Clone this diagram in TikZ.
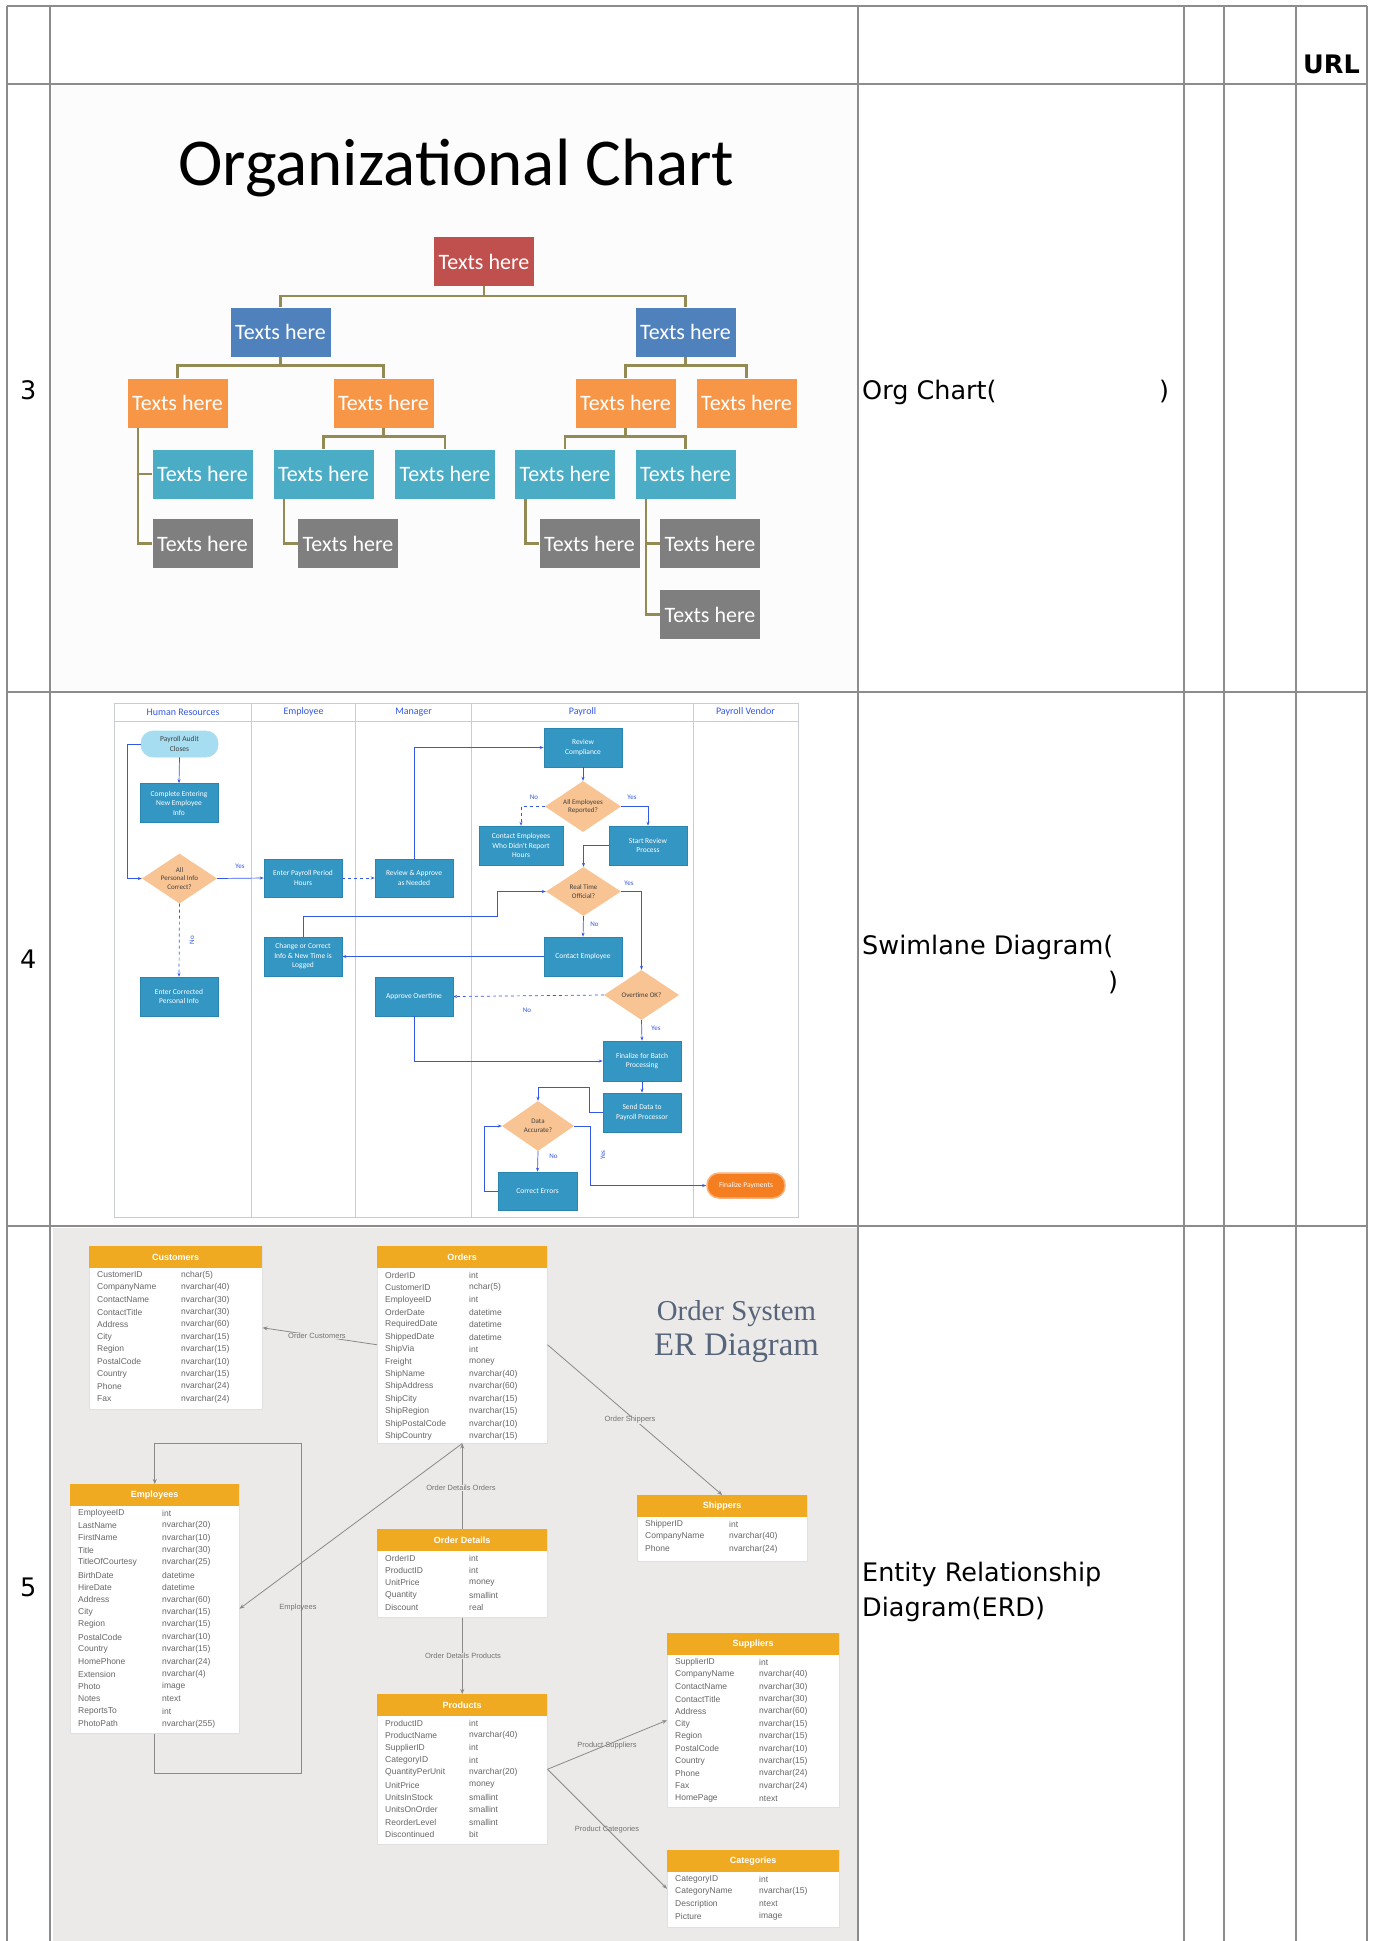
\documentclass[tikz,border=0pt]{standalone}
\usepackage{fontspec}
\setmainfont{DejaVu Sans}
\newfontfamily\calfont{Carlito}
\newfontfamily\lsfont{Liberation Sans}
\newfontfamily\lserif{Liberation Serif}
\usetikzlibrary{shapes.geometric,arrows.meta}
\definecolor{gridc}{HTML}{8C8C8C}
\definecolor{cRed}{HTML}{C0504D}
\definecolor{cBlue}{HTML}{4F81BD}
\definecolor{cOrange}{HTML}{F79646}
\definecolor{cCyan}{HTML}{4BACC6}
\definecolor{cGray}{HTML}{7F7F7F}
\definecolor{cOlive}{HTML}{948A54}
\definecolor{cTeal}{HTML}{3496C2}
\definecolor{cTealD}{HTML}{2A86B0}
\definecolor{cPeach}{HTML}{F9C493}
\definecolor{cLight}{HTML}{A6DDF0}
\definecolor{cPay}{HTML}{F57E20}
\definecolor{cLine}{HTML}{3358E8}
\definecolor{cLane}{HTML}{C8CCD8}
\definecolor{cErdBg}{HTML}{ECEAE8}
\definecolor{cGold}{HTML}{EFAA22}
\definecolor{cRel}{HTML}{8A8A8A}
\definecolor{cTitle}{HTML}{56657A}

\newcommand\erdtab[7]{%
  \node[erdbody, minimum width=#4pt, minimum height=#5pt, anchor=north west] (#1) at (#2,#3) {};
  \node[erdhead, minimum width=#4pt, anchor=north west] (#1-h) at (#2,#3) {#6};
  \foreach \fn/\ft [count=\i] in {#7} {
    \node[erdtxt, anchor=west] (#1-n\i) at ({#2+8},{#3+29+(\i-1)*12.4}) {\fn};
    \node[erdtxt, anchor=west] (#1-t\i) at ({#2+92},{#3+29+(\i-1)*12.4}) {\ft};
  }}

\begin{document}
\begin{tikzpicture}[x=1pt,y=-1pt,
  gridline/.style={draw=gridc, line width=2.5pt},
  rtxt/.style={font=\fontsize{25.5}{30}\selectfont, inner sep=0pt},
  orgbox/.style={rectangle, minimum width=100pt, minimum height=49pt, inner sep=0pt, text=white, font=\calfont\fontsize{22}{24}\selectfont},
  orgline/.style={draw=cOlive, line width=2.5pt},
  lanel/.style={draw=cLane, line width=0.8pt},
  lanehd/.style={text=cLine, font=\calfont\fontsize{10}{11}\selectfont, inner sep=0pt},
  slbox/.style={rectangle, fill=cTeal, draw=cTealD, line width=0.6pt, text=white, font=\calfont\fontsize{7.5}{9.5}\selectfont, align=center, inner sep=1pt, minimum width=78pt, minimum height=39pt},
  sldia/.style={diamond, aspect=1.5, fill=cPeach, text=black!75, font=\calfont\fontsize{7}{8.5}\selectfont, align=center, inner sep=0pt, minimum width=75pt, minimum height=50pt},
  slarrow/.style={draw=cLine, line width=0.7pt, -{Stealth[length=4pt,width=3pt]}},
  sllbl/.style={text=cLine, font=\calfont\fontsize{7}{8}\selectfont, inner sep=0pt},
  erdbody/.style={rectangle, fill=white, draw=black!12, line width=0.5pt, inner sep=0pt},
  erdhead/.style={rectangle, fill=cGold, minimum height=22pt, inner sep=0pt, text=white, font=\lsfont\bfseries\fontsize{9}{10}\selectfont},
  erdtxt/.style={font=\lsfont\fontsize{8.5}{9}\selectfont, text=black!60, inner sep=0pt},
  erdrel/.style={draw=cRel, line width=0.8pt, -{Stealth[length=5pt,width=4pt]}},
  erdlbl/.style={font=\lsfont\fontsize{7.5}{8}\selectfont, text=black!55, inner sep=0pt}
]
\useasboundingbox (0,0) rectangle (1383,1941);
\fill[white] (0,0) rectangle (1383,1941);

%================ ORG CHART =================
\fill[black!1] (52,86) rectangle (857,690);
\node[font=\calfont\fontsize{67}{70}\selectfont, anchor=base, inner sep=0pt] (orgtitle) at (456.5,185) {Organizational Chart};

\node[orgbox, fill=cRed] (red) at (484,261.5) {Texts here};
\node[orgbox, fill=cBlue] (bl) at (280.5,332) {Texts here};
\node[orgbox, fill=cBlue] (br) at (685.5,332) {Texts here};
\node[orgbox, fill=cOrange] (o1) at (177.5,403) {Texts here};
\node[orgbox, fill=cOrange] (o2) at (383.5,403) {Texts here};
\node[orgbox, fill=cOrange] (o3) at (625.5,403) {Texts here};
\node[orgbox, fill=cOrange] (o4) at (746.5,403) {Texts here};
\node[orgbox, fill=cCyan] (c1) at (202.5,474) {Texts here};
\node[orgbox, fill=cCyan] (c2) at (323.5,474) {Texts here};
\node[orgbox, fill=cCyan] (c3) at (445,474) {Texts here};
\node[orgbox, fill=cCyan] (c4) at (565,474) {Texts here};
\node[orgbox, fill=cCyan] (c5) at (685.5,474) {Texts here};
\node[orgbox, fill=cGray] (g1) at (202.5,543.5) {Texts here};
\node[orgbox, fill=cGray] (g2) at (348,543.5) {Texts here};
\node[orgbox, fill=cGray] (g3) at (589.5,543.5) {Texts here};
\node[orgbox, fill=cGray] (g4) at (710,543.5) {Texts here};
\node[orgbox, fill=cGray] (g5) at (710,614.5) {Texts here};

\draw[orgline] (red.south) -- ++(0,10) -| (bl.north);
\draw[orgline] (red.south) -- ++(0,10) -| (br.north);
\draw[orgline] (bl.south) -- ++(0,9) -| (o1.north);
\draw[orgline] (bl.south) -- ++(0,9) -| (o2.north);
\draw[orgline] (br.south) -- ++(0,9) -| (o3.north);
\draw[orgline] (br.south) -- ++(0,9) -| (o4.north);
\draw[orgline] (o2.south) -- ++(0,9) -| (c2.north);
\draw[orgline] (o2.south) -- ++(0,9) -| (c3.north);
\draw[orgline] (o3.south) -- ++(0,9) -| (c4.north);
\draw[orgline] (o3.south) -- ++(0,9) -| (c5.north);
\draw[orgline] ([xshift=-39.5pt]o1.south) |- (c1.west);
\draw[orgline] ([xshift=-39.5pt]o1.south) |- (g1.west);
\draw[orgline] ([xshift=-39.5pt]c2.south) |- (g2.west);
\draw[orgline] ([xshift=-39.5pt]c4.south) |- (g3.west);
\draw[orgline] ([xshift=-39.5pt]c5.south) |- (g4.west);
\draw[orgline] ([xshift=-39.5pt]c5.south) |- (g5.west);

%================ SWIMLANE =================
\draw[lanel] (114,703) rectangle (798,1217);
\draw[lanel] (114,721) -- (798,721);
\foreach \lx in {251.5,355.7,471,693} {\draw[lanel] (\lx,703) -- (\lx,1217);}
\node[lanehd] (lhr) at (183,712) {Human Resources};
\node[lanehd] (lem) at (303.5,712) {Employee};
\node[lanehd] (lma) at (413.5,712) {Manager};
\node[lanehd] (lpa) at (582.5,712) {Payroll};
\node[lanehd] (lpv) at (745.5,712) {Payroll Vendor};

\node[slbox, fill=cLight, draw=cLight, text=black!75, rounded corners=12pt, minimum height=26pt, minimum width=77pt] (audit) at (179.5,744) {Payroll Audit\\Closes};
\node[slbox] (complete) at (179,803) {Complete Entering\\New Employee\\Info};
\node[sldia] (dAll) at (179.5,878.5) {All\\Personal Info\\Correct?};
\node[slbox, minimum height=38pt] (enterHrs) at (303,878) {Enter Payroll Period\\Hours};
\node[slbox, minimum height=38pt] (reviewAp) at (414,878) {Review \& Approve\\as Needed};
\node[slbox] (revComp) at (583,747.5) {Review\\Compliance};
\node[sldia, minimum width=76pt, minimum height=51pt] (dEmp) at (583,806.5) {All Employees\\Reported?};
\node[slbox, minimum width=84pt] (contactEmps) at (521,845.5) {Contact Employees\\Who Didn't Report\\Hours};
\node[slbox] (startRev) at (648,845.5) {Start Review\\Process};
\node[sldia, minimum height=49pt] (dReal) at (583.5,891.5) {Real Time\\Official?};
\node[slbox] (change) at (303,956.5) {Change or Correct\\Info \& New Time is\\Logged};
\node[slbox] (contactEmp) at (583,956.5) {Contact Employee};
\node[slbox] (enterCorr) at (179,996.5) {Enter Corrected\\Personal Info};
\node[slbox] (approveOT) at (414,996.5) {Approve Overtime};
\node[sldia] (dOT) at (641.5,995) {Overtime OK?};
\node[slbox, minimum height=40pt] (finalBatch) at (642,1061) {Finalize for Batch\\Processing};
\node[slbox] (sendData) at (642,1112.5) {Send Data to\\Payroll Processor};
\node[sldia, minimum width=72pt] (dData) at (538,1126) {Data\\Accurate?};
\node[slbox, minimum width=79pt, minimum height=38pt] (correct) at (537.5,1191) {Correct Errors};
\node[slbox, fill=cPay, draw=cPay!60, line width=1.5pt, rounded corners=12pt, minimum height=25pt] (finalPay) at (746,1185.5) {Finalize Payments};

\draw[slarrow] (audit.south) -- (complete.north);
\draw[slarrow] (audit.west) -- ++(-13,0) |- (dAll.west);
\draw[slarrow] (dAll.east) -- (enterHrs.west);
\draw[slarrow, dashed] (enterHrs.east) -- (reviewAp.west);
\draw[slarrow] (reviewAp.north) |- (revComp.west);
\draw[slarrow] (revComp.south) -- (dEmp.north);
\draw[slarrow, dashed] (dEmp.west) -| (contactEmps.north);
\draw[slarrow] (dEmp.east) -| (startRev.north);
\draw[slarrow] (startRev.west) -| (dReal.north);
\draw[slarrow] (dReal.east) -| (dOT.north);
\draw[slarrow] (dReal.south) -- (contactEmp.north);
\draw[slarrow] (contactEmp.west) -- (change.east);
\draw[slarrow] (change.north) -- ++(0,-20) -| ([xshift=-48pt]dReal.west) -- (dReal.west);
\draw[slarrow, dashed] (dAll.south) -- (enterCorr.north);
\draw[slarrow, dashed] (dOT.west) -- (approveOT.east);
\draw[slarrow] (dOT.south) -- (finalBatch.north);
\draw[slarrow] (approveOT.south) |- (finalBatch.west);
\draw[slarrow] (finalBatch.south) -- (sendData.north);
\draw[slarrow] (sendData.west) -- ++(-13,0) -- ++(0,-25) -| (dData.north);
\draw[slarrow] (dData.south) -- (correct.north);
\draw[slarrow] (correct.west) -- ++(-13,0) |- (dData.west);
\draw[slarrow] (dData.east) -- ++(16,0) |- (finalPay.west);

\node[sllbl] (lb1) at (240,866) {Yes};
\node[sllbl] (lb2) at (534,797) {No};
\node[sllbl] (lb3) at (632,797) {Yes};
\node[sllbl] (lb4) at (629,883) {Yes};
\node[sllbl] (lb5) at (594.5,924) {No};
\node[sllbl, rotate=90] (lb6) at (192,940) {No};
\node[sllbl] (lb7) at (527,1010) {No};
\node[sllbl] (lb8) at (656,1028) {Yes};
\node[sllbl] (lb9) at (553.5,1156) {No};
\node[sllbl, rotate=90] (lb10) at (603,1155) {Yes};

%================ ERD =================
\fill[cErdBg] (53,1228) rectangle (857,1941);
\erdtab{customers}{89}{1246}{173}{163}{Customers}{CustomerID/nchar(5), CompanyName/nvarchar(40), ContactName/nvarchar(30), ContactTitle/nvarchar(30), Address/nvarchar(60), City/nvarchar(15), Region/nvarchar(15), PostalCode/nvarchar(10), Country/nvarchar(15), Phone/nvarchar(24), Fax/nvarchar(24)}
\erdtab{orders}{377}{1246}{170}{197}{Orders}{OrderID/int, CustomerID/nchar(5), EmployeeID/int, OrderDate/datetime, RequiredDate/datetime, ShippedDate/datetime, ShipVia/int, Freight/money, ShipName/nvarchar(40), ShipAddress/nvarchar(60), ShipCity/nvarchar(15), ShipRegion/nvarchar(15), ShipPostalCode/nvarchar(10), ShipCountry/nvarchar(15)}
\erdtab{employees}{70}{1484}{169}{249}{Employees}{EmployeeID/int, LastName/nvarchar(20), FirstName/nvarchar(10), Title/nvarchar(30), TitleOfCourtesy/nvarchar(25), BirthDate/datetime, HireDate/datetime, Address/nvarchar(60), City/nvarchar(15), Region/nvarchar(15), PostalCode/nvarchar(10), Country/nvarchar(15), HomePhone/nvarchar(24), Extension/nvarchar(4), Photo/image, Notes/ntext, ReportsTo/int, PhotoPath/nvarchar(255)}
\erdtab{oddet}{377}{1529}{170}{88}{Order Details}{OrderID/int, ProductID/int, UnitPrice/money, Quantity/smallint, Discount/real}
\erdtab{shippers}{637}{1495}{170}{66}{Shippers}{ShipperID/int, CompanyName/nvarchar(40), Phone/nvarchar(24)}
\erdtab{products}{377}{1694}{170}{150}{Products}{ProductID/int, ProductName/nvarchar(40), SupplierID/int, CategoryID/int, QuantityPerUnit/nvarchar(20), UnitPrice/money, UnitsInStock/smallint, UnitsOnOrder/smallint, ReorderLevel/smallint, Discontinued/bit}
\erdtab{suppliers}{667}{1633}{172}{174}{Suppliers}{SupplierID/int, CompanyName/nvarchar(40), ContactName/nvarchar(30), ContactTitle/nvarchar(30), Address/nvarchar(60), City/nvarchar(15), Region/nvarchar(15), PostalCode/nvarchar(10), Country/nvarchar(15), Phone/nvarchar(24), Fax/nvarchar(24), HomePage/ntext}
\erdtab{categories}{667}{1850}{172}{77}{Categories}{CategoryID/int, CategoryName/nvarchar(15), Description/ntext, Picture/image}

\node[font=\lserif\fontsize{28.8}{30}\selectfont, text=cTitle, anchor=base, inner sep=0pt] (erdt1) at (736.5,1320) {Order System};
\node[font=\lserif\fontsize{32.8}{34}\selectfont, text=cTitle, anchor=base, inner sep=0pt] (erdt2) at (736.5,1355) {ER Diagram};

\draw[erdrel] (orders.west) -- (customers.east);
\draw[erdrel] (orders.east) -- (shippers.north);
\draw[erdrel] (oddet.north) -- (orders.south);
\draw[erdrel] (oddet.south) -- (products.north);
\draw[erdrel] (orders.south) -- (employees.east);
\draw[erdrel] (products.east) -- (suppliers.west);
\draw[erdrel] (products.east) -- (categories.west);
\draw[erdrel] (employees.south) -- ++(0,40) -| ++(147,-330) -| (employees.north);

\node[erdlbl, fill=cErdBg] (rl1) at (317,1336) {Order Customers};
\node[erdlbl, fill=cErdBg] (rl2) at (630,1420) {Order Shippers};
\node[erdlbl, fill=cErdBg] (rl3) at (461,1488) {Order Details Orders};
\node[erdlbl, fill=cErdBg] (rl4) at (463,1656) {Order Details Products};
\node[erdlbl] (rl5) at (298,1608) {Employees};
\node[erdlbl] (rl6) at (607,1746) {Product Suppliers};
\node[erdlbl] (rl7) at (607,1830) {Product Categories};

%================ TABLE TEXT =================
\node[rtxt, font=\bfseries\fontsize{25.5}{30}\selectfont, anchor=base west] (url) at (1303,73) {URL};
\node[rtxt, anchor=base west] (n3) at (20,399) {3};
\node[rtxt, anchor=base west] (n4) at (20,968) {4};
\node[rtxt, anchor=base west] (n5) at (20,1596) {5};
\node[rtxt, anchor=base west] (t3a) at (862,399) {Org Chart(};
\node[rtxt, anchor=base west] (t3b) at (1159,399) {)};
\node[rtxt, anchor=base west] (t4a) at (862,954) {Swimlane Diagram(};
\node[rtxt, anchor=base west] (t4b) at (1108,990) {)};
\node[rtxt, anchor=base west] (t5a) at (862,1581) {Entity Relationship};
\node[rtxt, anchor=base west] (t5b) at (862,1616) {Diagram(ERD)};

%================ GRID =================
\foreach \gy in {6,84,692,1226} {\draw[gridline] (7,\gy) -- (1367,\gy);}
\foreach \gx in {7,50,858,1184,1224,1296,1367} {\draw[gridline] (\gx,6) -- (\gx,1941);}
\end{tikzpicture}
\end{document}
